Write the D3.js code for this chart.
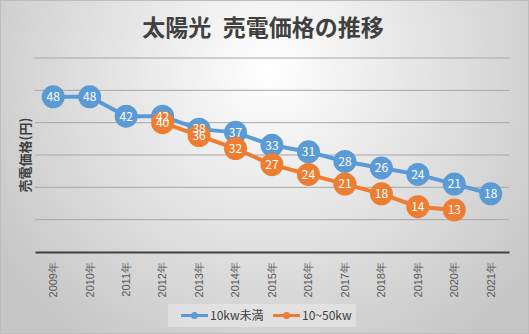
<!DOCTYPE html>
<html>
<head>
<meta charset="utf-8">
<script src="https://cdn.jsdelivr.net/npm/d3@7"></script>
<style>
  body { margin: 0; padding: 0; overflow: hidden; }
  svg { display: block; font-family: "Noto Sans CJK JP", "Noto Sans", sans-serif; }
</style>
</head>
<body>
<script>
var years = ["2009年","2010年","2011年","2012年","2013年","2014年","2015年","2016年","2017年","2018年","2019年","2020年","2021年"];
var small = [48, 48, 42, 42, 38, 37, 33, 31, 28, 26, 24, 21, 18];
var mid = [null, null, null, 40, 36, 32, 27, 24, 21, 18, 14, 13, null];
var seriesNames = ["10kw未満", "10~50kw"];
var colors = ["#5b9bd5", "#ed7d31"];
var yTicks = [0, 10, 20, 30, 40, 50, 60];

var w = 529, h = 334;
var plotLeft = 35, plotRight = 509, plotTop = 58, plotBottom = 252;

var svg = d3.select("body").append("svg")
  .attr("width", w)
  .attr("height", h);

// background gradient
var defs = svg.append("defs");
var grad = defs.append("radialGradient")
  .attr("id", "bg")
  .attr("gradientUnits", "userSpaceOnUse")
  .attr("cx", 270).attr("cy", 70).attr("r", 330);
grad.append("stop").attr("offset", "0%").attr("stop-color", "#ffffff");
grad.append("stop").attr("offset", "100%").attr("stop-color", "#c6c6c6");

svg.append("rect")
  .attr("x", 0.5).attr("y", 0.5)
  .attr("width", w - 1).attr("height", h - 1)
  .attr("fill", "url(#bg)")
  .attr("stroke", "#bdbdbd");

var x = d3.scaleBand().domain(years).range([plotLeft, plotRight]);
var y = d3.scaleLinear().domain([0, 60]).range([plotBottom, plotTop]);

// gridlines
svg.append("g")
  .selectAll("line")
  .data(yTicks.slice(1))
  .enter()
  .append("line")
  .attr("x1", plotLeft).attr("x2", plotRight)
  .attr("y1", function(d) { return y(d); })
  .attr("y2", function(d) { return y(d); })
  .attr("stroke", "#a6a6a6")
  .attr("stroke-width", 1);

// x axis
var xAxis = svg.append("g")
  .attr("transform", "translate(0," + plotBottom + ")")
  .call(d3.axisBottom(x).tickSize(0).tickPadding(0));
xAxis.select(".domain").attr("stroke", "#404040").attr("stroke-width", 2);
xAxis.selectAll("text")
  .attr("transform", "rotate(-90)")
  .attr("x", -10).attr("y", 0)
  .attr("dy", "0.35em")
  .style("text-anchor", "end")
  .style("font-size", "11px")
  .style("fill", "#595959");

// title
svg.append("text")
  .attr("x", 263).attr("y", 36)
  .attr("text-anchor", "middle")
  .style("font-size", "23px")
  .style("font-weight", "bold")
  .style("fill", "#404040")
  .text("太陽光\u2002売電価格の推移");

// y axis title
svg.append("text")
  .attr("transform", "translate(30,155) rotate(-90)")
  .attr("text-anchor", "middle")
  .style("font-size", "13px")
  .style("font-weight", "bold")
  .style("fill", "#404040")
  .text("売電価格(円)");

var series = [small, mid];
var line = d3.line()
  .defined(function(d) { return d != null; })
  .x(function(d, i) { return x(years[i]) + x.bandwidth() / 2; })
  .y(function(d) { return y(d); });

series.forEach(function(s, k) {
  svg.append("path")
    .datum(s)
    .attr("d", line)
    .attr("fill", "none")
    .attr("stroke", colors[k])
    .attr("stroke-width", 4);

  svg.append("g")
    .selectAll("circle")
    .data(s.map(function(v, i) { return { v: v, i: i }; }).filter(function(d) { return d.v != null; }))
    .enter()
    .append("circle")
    .attr("cx", function(d) { return x(years[d.i]) + x.bandwidth() / 2; })
    .attr("cy", function(d) { return y(d.v); })
    .attr("r", 11.5)
    .attr("fill", colors[k]);
});

series.forEach(function(s, k) {
  svg.append("g")
    .selectAll("text")
    .data(s.map(function(v, i) { return { v: v, i: i }; }).filter(function(d) { return d.v != null; }))
    .enter()
    .append("text")
    .attr("x", function(d) { return x(years[d.i]) + x.bandwidth() / 2; })
    .attr("y", function(d) { return y(d.v); })
    .attr("dy", "0.36em")
    .attr("text-anchor", "middle")
    .style("font-size", "12px")
    .style("fill", "#ffffff")
    .text(function(d) { return d.v; });
});

// legend
var lg = svg.append("g");
lg.append("rect")
  .attr("x", 168).attr("y", 304)
  .attr("width", 188).attr("height", 23)
  .attr("fill", "#ffffff")
  .attr("fill-opacity", 0.3);
var lx = [181, 273];
seriesNames.forEach(function(name, k) {
  lg.append("line")
    .attr("x1", lx[k]).attr("x2", lx[k] + 27)
    .attr("y1", 315.5).attr("y2", 315.5)
    .attr("stroke", colors[k])
    .attr("stroke-width", 3);
  lg.append("circle")
    .attr("cx", lx[k] + 13.5).attr("cy", 315.5)
    .attr("r", 3.5)
    .attr("fill", colors[k]);
  lg.append("text")
    .attr("x", lx[k] + 29).attr("y", 315.5)
    .attr("dy", "0.36em")
    .style("font-size", "12px")
    .style("fill", "#404040")
    .text(name);
});
</script>
</body>
</html>
